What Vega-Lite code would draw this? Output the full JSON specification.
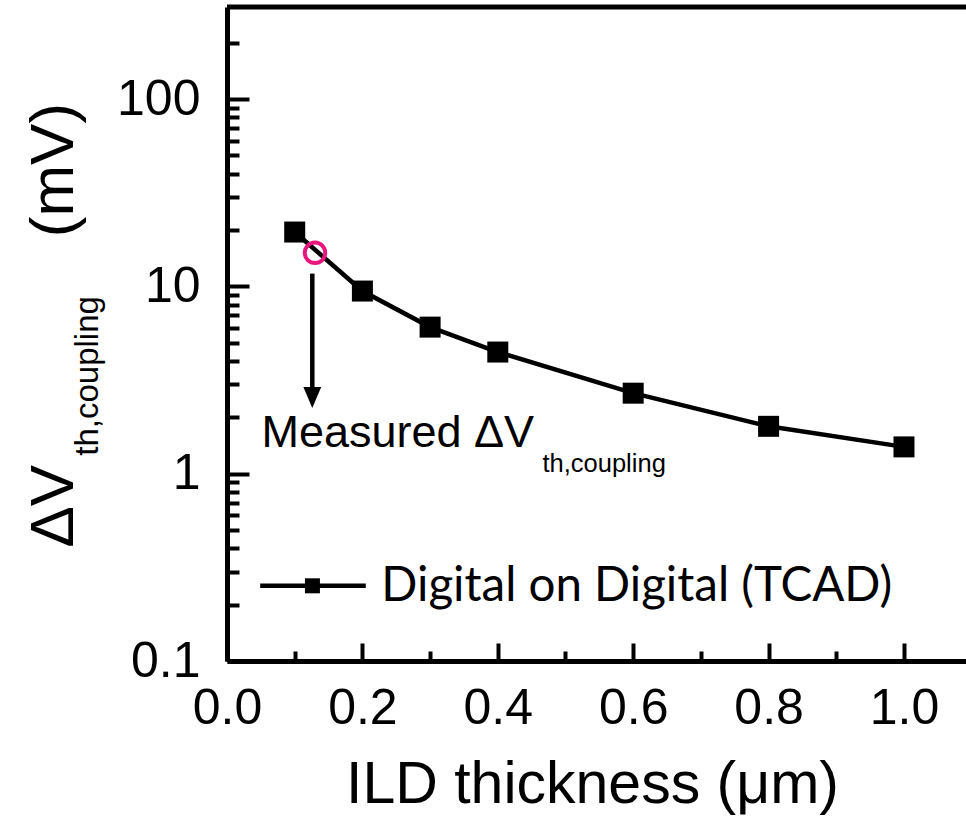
{
  "$schema": "https://vega.github.io/schema/vega-lite/v6.json",
  "width": 739,
  "height": 654,
  "autosize": "none",
  "padding": {"left": 227, "top": 7, "right": 0, "bottom": 155},
  "background": "white",
  "config": {"view": {"stroke": null}, "font": "Liberation Sans"},
  "datasets": {
    "tcad": [
      {"ild": 0.1, "dvth": 19.5},
      {"ild": 0.2, "dvth": 9.44},
      {"ild": 0.3, "dvth": 6.06},
      {"ild": 0.4, "dvth": 4.46},
      {"ild": 0.6, "dvth": 2.69},
      {"ild": 0.8, "dvth": 1.79},
      {"ild": 1.0, "dvth": 1.39}
    ],
    "measured": [
      {"ild": 0.13, "dvth": 15.1}
    ],
    "anchor": [{}]
  },
  "layer": [
    {
      "data": {"name": "tcad"},
      "mark": {"type": "line", "color": "black", "strokeWidth": 4.5},
      "encoding": {
        "x": {
          "field": "ild", "type": "quantitative",
          "scale": {"type": "linear", "domain": [0, 1.0916], "nice": false, "zero": false},
          "axis": {
            "title": "ILD thickness (μm)",
            "grid": false,
            "values": [0, 0.1, 0.2, 0.3, 0.4, 0.5, 0.6, 0.7, 0.8, 0.9, 1.0],
            "labelExpr": "round(datum.value*10) % 2 == 1 ? '' : format(datum.value, '.1f')",
            "domainWidth": 5, "domainColor": "black",
            "tickWidth": 4, "tickColor": "black",
            "tickSize": {"condition": {"test": "round(datum.value*10) % 2 == 1", "value": -10}, "value": -18},
            "labelFont": "Liberation Sans", "labelFontSize": 50, "labelColor": "black",
            "labelBaseline": "alphabetic", "labelPadding": 80,
            "labelFlush": false, "labelOverlap": false, "labelBound": false,
            "titleFont": "Liberation Sans", "titleFontSize": 59, "titleFontWeight": "normal", "titleColor": "black",
            "titleX": 365, "titleY": 141, "titleAlign": "center", "titleBaseline": "alphabetic"
          }
        },
        "y": {
          "field": "dvth", "type": "quantitative",
          "scale": {"type": "log", "domain": [0.1, 310], "nice": false},
          "axis": {
            "title": null,
            "grid": false,
            "values": [0.1, 0.2, 0.3, 0.4, 0.5, 0.6, 0.7, 0.8, 0.9, 1, 2, 3, 4, 5, 6, 7, 8, 9, 10, 20, 30, 40, 50, 60, 70, 80, 90, 100, 200],
            "labelExpr": "abs(log(datum.value)/LN10 - round(log(datum.value)/LN10)) > 0.01 ? '' : format(datum.value, '~g')",
            "domainWidth": 5, "domainColor": "black",
            "tickWidth": 4, "tickColor": "black",
            "tickSize": {"condition": {"test": "abs(log(datum.value)/LN10 - round(log(datum.value)/LN10)) > 0.01", "value": -12}, "value": -22},
            "labelFont": "Liberation Sans", "labelFontSize": 50, "labelColor": "black",
            "labelPadding": 49,
            "labelFlush": false, "labelOverlap": false, "labelBound": false
          }
        }
      }
    },
    {
      "data": {"name": "anchor"},
      "mark": {"type": "rule", "color": "black", "strokeWidth": 5},
      "encoding": {"y": {"datum": 310, "type": "quantitative"}}
    },
    {
      "data": {"name": "tcad"},
      "mark": {"type": "point", "shape": "square", "filled": true, "color": "black", "size": 441, "opacity": 1},
      "encoding": {
        "x": {"field": "ild", "type": "quantitative"},
        "y": {"field": "dvth", "type": "quantitative"}
      }
    },
    {
      "data": {"name": "measured"},
      "mark": {"type": "point", "shape": "circle", "filled": false, "stroke": "#e8167c", "strokeWidth": 4, "size": 420, "opacity": 1},
      "encoding": {
        "x": {"field": "ild", "type": "quantitative"},
        "y": {"field": "dvth", "type": "quantitative"}
      }
    },
    {
      "data": {"name": "anchor"},
      "mark": {"type": "rule", "color": "black", "strokeWidth": 4.5},
      "encoding": {
        "x": {"datum": 0.126, "type": "quantitative"},
        "y": {"datum": 11.7, "type": "quantitative"},
        "y2": {"datum": 2.7}
      }
    },
    {
      "data": {"name": "anchor"},
      "mark": {"type": "point", "shape": "M-0.85,-1L0.85,-1L0,1Z", "filled": true, "color": "black", "size": 440, "opacity": 1},
      "encoding": {
        "x": {"datum": 0.126, "type": "quantitative"},
        "y": {"datum": 2.55, "type": "quantitative"}
      }
    },
    {
      "data": {"name": "anchor"},
      "mark": {"type": "text", "text": "Measured ΔV", "font": "Liberation Sans", "fontSize": 45, "color": "black", "align": "left", "baseline": "alphabetic"},
      "encoding": {
        "x": {"datum": 0.0508, "type": "quantitative"},
        "y": {"datum": 1.38, "type": "quantitative"}
      }
    },
    {
      "data": {"name": "anchor"},
      "mark": {"type": "text", "text": "th,coupling", "font": "Liberation Sans", "fontSize": 25.5, "color": "black", "align": "left", "baseline": "alphabetic"},
      "encoding": {
        "x": {"datum": 0.466, "type": "quantitative"},
        "y": {"datum": 1.025, "type": "quantitative"}
      }
    },
    {
      "data": {"name": "anchor"},
      "mark": {"type": "rule", "color": "black", "strokeWidth": 4.5},
      "encoding": {
        "x": {"datum": 0.049, "type": "quantitative"},
        "x2": {"datum": 0.205},
        "y": {"datum": 0.252, "type": "quantitative"}
      }
    },
    {
      "data": {"name": "anchor"},
      "mark": {"type": "point", "shape": "square", "filled": true, "color": "black", "size": 225, "opacity": 1},
      "encoding": {
        "x": {"datum": 0.1262, "type": "quantitative"},
        "y": {"datum": 0.252, "type": "quantitative"}
      }
    },
    {
      "data": {"name": "anchor"},
      "mark": {"type": "text", "text": "Digital on Digital (TCAD)", "font": "Lato", "fontSize": 47.5, "color": "black", "align": "left", "baseline": "alphabetic"},
      "encoding": {
        "x": {"datum": 0.228, "type": "quantitative"},
        "y": {"datum": 0.21, "type": "quantitative"}
      }
    },
    {
      "data": {"name": "anchor"},
      "mark": {"type": "text", "text": "ΔV", "font": "Liberation Sans", "fontSize": 62, "color": "black", "align": "left", "baseline": "alphabetic", "angle": 270},
      "encoding": {
        "x": {"datum": -0.2275, "type": "quantitative"},
        "y": {"datum": 0.403, "type": "quantitative"}
      }
    },
    {
      "data": {"name": "anchor"},
      "mark": {"type": "text", "text": "th,coupling", "font": "Liberation Sans", "fontSize": 33, "color": "black", "align": "left", "baseline": "alphabetic", "angle": 270},
      "encoding": {
        "x": {"datum": -0.1905, "type": "quantitative"},
        "y": {"datum": 1.247, "type": "quantitative"}
      }
    },
    {
      "data": {"name": "anchor"},
      "mark": {"type": "text", "text": "(mV)", "font": "Liberation Sans", "fontSize": 62, "color": "black", "align": "left", "baseline": "alphabetic", "angle": 270},
      "encoding": {
        "x": {"datum": -0.2275, "type": "quantitative"},
        "y": {"datum": 18.3, "type": "quantitative"}
      }
    }
  ]
}
